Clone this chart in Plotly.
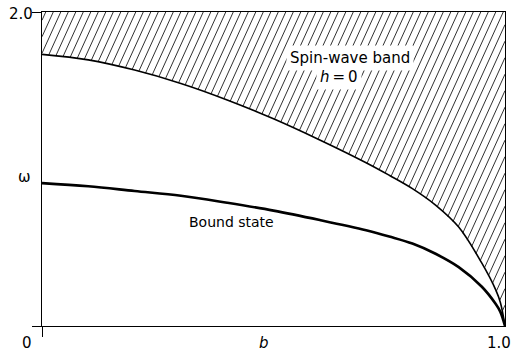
import numpy as np
import plotly.graph_objects as go

# Spin-wave band lower edge (h = 0)
b_band = [0.0, 0.1, 0.2, 0.3, 0.4, 0.5, 0.6, 0.7, 0.75, 0.8, 0.85, 0.9, 0.95, 0.98, 0.99, 1.0]
w_band = [1.73, 1.695, 1.63, 1.545, 1.44, 1.32, 1.185, 1.04, 0.96, 0.875, 0.77, 0.63, 0.40, 0.23, 0.15, 0.0]

# Bound state
b_bound = [0.0, 0.1, 0.2, 0.3, 0.4, 0.5, 0.6, 0.7, 0.75, 0.8, 0.85, 0.9, 0.95, 0.98, 0.99, 1.0]
w_bound = [0.91, 0.89, 0.86, 0.83, 0.785, 0.735, 0.675, 0.61, 0.57, 0.525, 0.46, 0.375, 0.25, 0.14, 0.09, 0.0]

x_range = [0.0, 1.0]
y_range = [0.0, 2.0]

W, H = 514, 355
L, R, T, B = 42, 9, 12, 29
pw, ph = W - L - R, H - T - B

# hatch lines (styling of the band region), derived from the band curve
slope_px = 2.2
k = slope_px * (pw / (x_range[1] - x_range[0])) / (ph / (y_range[1] - y_range[0]))
step = 7.5 / pw
ytop = y_range[1]
bgrid = np.linspace(0, 1, 4001)
fgrid = np.interp(bgrid, b_band, w_band)
hx, hy = [], []
c = step * 0.5
while c <= 1 + ytop / k:
    bhi = min(c, 1.0)
    line = ytop - k * (c - bgrid)
    g = line - fgrid
    idx = np.where(bgrid <= bhi)[0]
    j = idx[-1]
    while j > 0 and g[j - 1] >= 0:
        j -= 1
    if j == 0 and g[0] >= 0:
        blo = 0.0
    else:
        g0, g1 = g[j - 1], g[j]
        t = g0 / (g0 - g1) if g0 != g1 else 0
        blo = bgrid[j - 1] + t * (bgrid[j] - bgrid[j - 1])
    hx += [blo, bhi, None]
    hy += [ytop - k * (c - blo), ytop - k * (c - bhi), None]
    c += step

fig = go.Figure()
fig.add_trace(go.Scatter(x=hx, y=hy, mode="lines",
                         line=dict(color="#1a1a1a", width=0.9),
                         hoverinfo="skip", showlegend=False))
fig.add_trace(go.Scatter(x=b_band, y=w_band, mode="lines", line_shape="spline",
                         line=dict(color="black", width=1.6), showlegend=False))
fig.add_trace(go.Scatter(x=b_bound, y=w_bound, mode="lines", line_shape="spline",
                         line=dict(color="black", width=2.6), showlegend=False))

font = dict(family="DejaVu Sans", size=15, color="black")
ann = [
    dict(x=-0.032, y=-0.054, text="0"),
    dict(x=0.987, y=-0.054, text="1.0"),
    dict(x=0.48, y=-0.054, text="<i>b</i>"),
    dict(x=-0.045, y=0.995, text="2.0"),
    dict(x=-0.037, y=0.475, text="ω"),
    dict(x=0.665, y=0.853, text="Spin-wave band", bgcolor="white", borderpad=3),
    dict(x=0.641, y=0.793, text="<i>h</i>\u2009=\u20090", bgcolor="white", borderpad=3),
    dict(x=0.41, y=0.331, text="Bound state", font=dict(family="DejaVu Sans", size=14, color="black")),
]
annotations = []
for a in ann:
    d = dict(xref="paper", yref="paper", showarrow=False, xanchor="center", yanchor="middle", font=font)
    d.update(a)
    annotations.append(d)

fig.update_layout(
    width=W, height=H,
    margin=dict(l=L, r=R, t=T, b=B, pad=0),
    paper_bgcolor="white", plot_bgcolor="white",
    annotations=annotations,
    xaxis=dict(range=x_range, showgrid=False, zeroline=False, showline=True, linecolor="black",
               linewidth=1.3, mirror=True, tickvals=[0], ticks="outside", ticklen=10,
               tickcolor="black", tickwidth=1.3, showticklabels=False),
    yaxis=dict(range=y_range, showgrid=False, zeroline=False, showline=True, linecolor="black",
               linewidth=1.3, mirror=True, tickvals=[0, 2], ticks="outside", ticklen=9,
               tickcolor="black", tickwidth=1.3, showticklabels=False),
)
fig.write_html("out.html")
